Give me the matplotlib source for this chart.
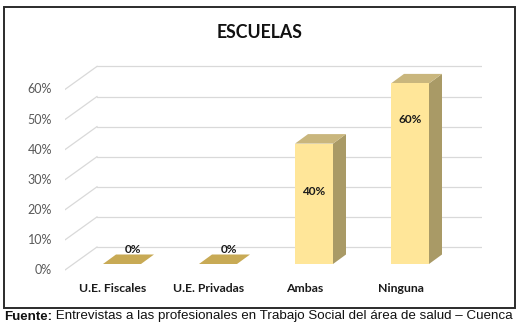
import matplotlib
matplotlib.use("Agg")
import matplotlib.pyplot as plt
from matplotlib.patches import Polygon, Rectangle

categories = ["U.E. Fiscales", "U.E. Privadas", "Ambas", "Ninguna"]
values = [0, 0, 40, 60]
bar_labels = ["0%", "0%", "40%", "60%"]
yticks = [0, 10, 20, 30, 40, 50, 60]
ytick_labels = ["0%", "10%", "20%", "30%", "40%", "50%", "60%"]
title = "ESCUELAS"
source_bold = "Fuente:"
source_text = " Entrevistas a las profesionales en Trabajo Social del área de salud – Cuenca"

W, H, DPI = 519, 323, 100
fig = plt.figure(figsize=(W / DPI, H / DPI), dpi=DPI)
fig.patch.set_facecolor("white")

px_left, px_right = 65, 482
px_y0, px_per10 = 264, 30.1
cat_x0, cat_dx = 122, 96
xl = (px_left - cat_x0) / cat_dx
xr = (px_right - cat_x0) / cat_dx
ax_bottom_px, ax_top_px = 275, 60
y_lo = -(ax_bottom_px - px_y0) / px_per10 * 10
y_hi = (px_y0 - ax_top_px) / px_per10 * 10
ax = fig.add_axes([px_left / W, (H - ax_bottom_px) / H,
                   (px_right - px_left) / W, (ax_bottom_px - ax_top_px) / H])
ax.set_xlim(xl, xr)
ax.set_ylim(y_lo, y_hi)
ax.axis("off")

ux = 1 / cat_dx
uy = 10 / px_per10

grid_c = "#d9d9d9"
front_dy = 6
back_dx, back_dy = 32, 23
for v in yticks:
    yf = v - front_dy * uy
    yb = yf + back_dy * uy
    xf = xl
    xb = xl + back_dx * ux
    ax.plot([xf, xb], [yf, yb], color=grid_c, lw=0.9, zorder=1)
    ax.plot([xb, xr], [yb, yb], color=grid_c, lw=0.9, zorder=1)

for v, lab in zip(yticks, ytick_labels):
    ax.text(xl - 13 * ux, v - front_dy * uy, lab, ha="right", va="center",
            fontsize=9, color="#595959", family="Lato")

bw = 38 / cat_dx
ddx, ddy = 13 * ux, 9.5 * uy
front_c = "#FFE699"
side_c = "#A99A66"
top_c = "#C9B67D"
flat_c = "#C8AA55"
for i, (v, lab) in enumerate(zip(values, bar_labels)):
    x0 = i - bw / 2
    x1 = i + bw / 2
    if v == 0:
        ax.add_patch(Polygon([(x0, 0), (x1, 0), (x1 + ddx, ddy), (x0 + ddx, ddy)],
                             closed=True, facecolor=flat_c, edgecolor="none", zorder=3))
        ax.text(i + ddx * 0.85, 4.7, lab, ha="center", va="center",
                fontsize=8.5, fontweight="bold", color="#1a1a1a", family="Lato", zorder=5)
    else:
        ax.bar(i, v, width=bw, bottom=0, color=front_c, edgecolor="none", zorder=4)
        ax.add_patch(Polygon([(x1, 0), (x1 + ddx, ddy), (x1 + ddx, v + ddy), (x1, v)],
                             closed=True, facecolor=side_c, edgecolor="none", zorder=3))
        ax.add_patch(Polygon([(x0, v), (x1, v), (x1 + ddx, v + ddy), (x0 + ddx, v + ddy)],
                             closed=True, facecolor=top_c, edgecolor="none", zorder=3))
        ax.text(i, v * 1.2 - 24, lab, ha="center", va="center", fontsize=8.5,
                fontweight="bold", color="#1a1a1a", family="Lato", zorder=5)

for i, c in enumerate(categories):
    ax.text(i - 9 * ux, -8.3, c, ha="center", va="center", fontsize=8.8,
            fontweight="bold", color="#1a1a1a", family="Lato", clip_on=False)

fig.text(260 / W, 1 - 33 / H, title, ha="center", va="center", fontsize=12.8,
         fontweight="bold", color="#111111", family="Lato")

fig.add_artist(Rectangle((3.5 / W, 1 - 308 / H), 511 / W, 301 / H,
                         transform=fig.transFigure, fill=False,
                         edgecolor="#2b2b2b", lw=1.4))

t1 = fig.text(4 / W, 1 - 316.5 / H, source_bold, ha="left", va="center",
              fontsize=9.6, fontweight="bold", family="Liberation Sans", color="#111111")
fig.canvas.draw()
bb = t1.get_window_extent()
fig.text(bb.x1 / W, 1 - 316.5 / H, source_text, ha="left", va="center",
         fontsize=9.6, family="Liberation Sans", color="#111111")

fig.savefig("out.png", dpi=DPI)
